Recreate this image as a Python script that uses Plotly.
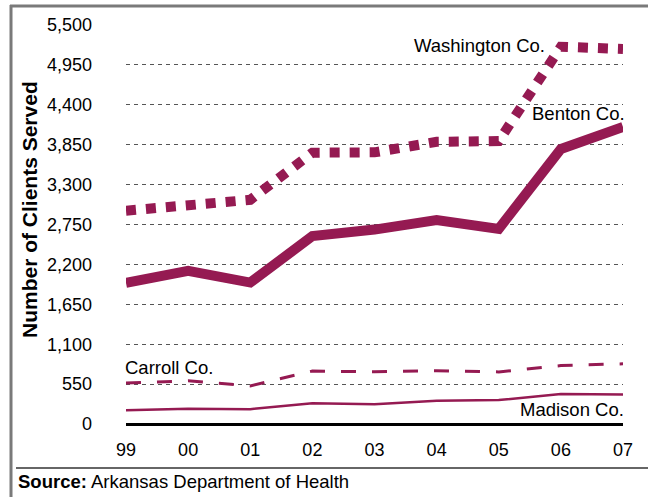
import plotly.graph_objects as go

years = ["99", "00", "01", "02", "03", "04", "05", "06", "07"]
washington = [2940, 3030, 3090, 3740, 3745, 3890, 3900, 5200, 5170]
benton = [1945, 2110, 1950, 2590, 2680, 2810, 2690, 3790, 4095]
carroll = [565, 595, 525, 730, 720, 735, 718, 805, 830]
madison = [190, 210, 205, 285, 272, 320, 330, 412, 405]
ytickvals = [0, 550, 1100, 1650, 2200, 2750, 3300, 3850, 4400, 4950, 5500]
yticktext = ["0", "550", "1,100", "1,650", "2,200", "2,750", "3,300", "3,850", "4,400", "4,950", "5,500"]

COLOR = "#951A52"
FONT = "Liberation Sans, Arial, sans-serif"

W, H = 648, 497
L, R, T, B = 126, 25, 25, 73
pw, ph = W - L - R, H - T - B
x_idx = list(range(len(years)))


def px(x):
    return (x - L) / pw


def py(y):
    return (H - B - y) / ph


fig = go.Figure()
fig.add_trace(go.Scatter(x=x_idx, y=washington, mode="lines",
                         line=dict(color=COLOR, width=10, dash="10px,10px"), cliponaxis=False))
fig.add_trace(go.Scatter(x=x_idx, y=benton, mode="lines",
                         line=dict(color=COLOR, width=10), cliponaxis=False))
fig.add_trace(go.Scatter(x=x_idx, y=carroll, mode="lines",
                         line=dict(color=COLOR, width=3, dash="15px,16px"), cliponaxis=False))
fig.add_trace(go.Scatter(x=x_idx, y=madison, mode="lines",
                         line=dict(color=COLOR, width=2.5), cliponaxis=False))

gray = "#7a7a7a"
shapes = [
    dict(type="line", xref="paper", yref="paper", x0=px(10), x1=px(648), y0=py(6), y1=py(6),
         line=dict(color=gray, width=3)),
    dict(type="line", xref="paper", yref="paper", x0=px(11), x1=px(11), y0=py(5), y1=py(497),
         line=dict(color=gray, width=3)),
    dict(type="line", xref="paper", yref="paper", x0=px(16), x1=px(648), y0=py(468), y1=py(468),
         line=dict(color="#666666", width=2)),
]

annotations = [
    dict(text="Washington Co.", x=px(547), y=py(45), xref="paper", yref="paper",
         xanchor="right", yanchor="middle", showarrow=False),
    dict(text="Benton Co.", x=px(627), y=py(113), xref="paper", yref="paper",
         xanchor="right", yanchor="middle", showarrow=False),
    dict(text="Carroll Co.", x=px(123), y=py(367), xref="paper", yref="paper",
         xanchor="left", yanchor="middle", showarrow=False),
    dict(text="Madison Co.", x=px(626), y=py(409), xref="paper", yref="paper",
         xanchor="right", yanchor="middle", showarrow=False),
    dict(text="<b>Source:</b> Arkansas Department of Health", x=px(16), y=py(482),
         xref="paper", yref="paper", xanchor="left", yanchor="middle", showarrow=False,
         font=dict(size=18.5)),
    dict(text="<b>Number of Clients Served</b>", x=px(29), y=py(210), xref="paper", yref="paper",
         xanchor="center", yanchor="middle", showarrow=False, textangle=-90,
         font=dict(size=21)),
]

fig.update_layout(
    width=W, height=H,
    margin=dict(l=L, r=R, t=T, b=B, pad=0),
    paper_bgcolor="white", plot_bgcolor="white",
    showlegend=False,
    font=dict(family=FONT, size=18.5, color="black"),
    shapes=shapes, annotations=annotations,
    xaxis=dict(range=[0, 8], tickvals=x_idx, ticktext=years, showgrid=False,
               zeroline=False, showline=False, ticks="", ticklabelstandoff=13,
               tickfont=dict(size=18), fixedrange=True),
    yaxis=dict(range=[0, 5500], tickvals=ytickvals, ticktext=yticktext,
               showgrid=True, gridcolor="#555555", gridwidth=1, griddash="4px,4px",
               zeroline=True, zerolinecolor="black", zerolinewidth=3,
               showline=False, ticks="", ticklabelstandoff=33,
               tickfont=dict(size=18), fixedrange=True),
)

fig.write_html("out.html", config={"displayModeBar": False},
               post_script="document.body.style.margin='0';document.body.style.padding='0';")
